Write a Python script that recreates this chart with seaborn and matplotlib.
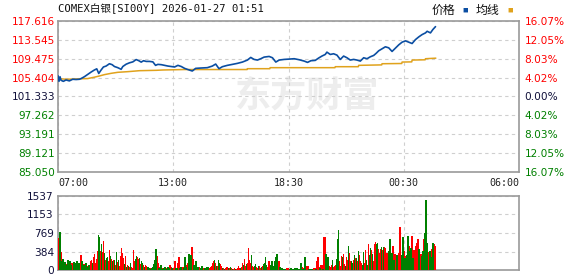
import numpy as np
import pandas as pd
import matplotlib
matplotlib.use("Agg")
import matplotlib.pyplot as plt
import seaborn as sns

# ---------------- data ----------------
title = "COMEX白银[SI00Y] 2026-01-27 01:51"
x_tick_labels = ["07:00", "13:00", "18:30", "00:30", "06:00"]
session_minutes = 1380  # 07:00 -> 06:00 next day
price_ticks = [117.616, 113.545, 109.475, 105.404, 101.333, 97.262, 93.191, 89.121, 85.050]
pct_labels = ["16.07%", "12.05%", "8.03%", "4.02%", "0.00%", "4.02%", "8.03%", "12.05%", "16.07%"]
vol_ticks = [0, 384, 769, 1153, 1537]

# price (minutes after 07:00, price)
price_minute = [0, 3, 6, 9, 16, 24, 34, 44, 54, 64, 69, 79, 89, 99, 109, 116, 122, 129, 136,
                144, 154, 162, 169, 179, 189, 194, 204, 214, 224, 234, 242, 249, 256, 264,
                274, 284, 292, 299, 309, 319, 329, 339, 349, 359, 369, 379, 387, 402, 412,
                427, 447, 462, 472, 482, 492, 507, 522, 537, 552, 567, 577, 587, 597, 607,
                617, 632, 642, 652, 662, 677, 692, 707, 722, 737, 747, 757, 770, 780, 790,
                800, 805, 815, 825, 835, 845, 855, 865, 875, 885, 895, 905, 915, 925, 935,
                945, 952, 960, 970, 980, 990, 1000, 1010, 1020, 1030, 1040, 1050, 1060,
                1070, 1080, 1090, 1100, 1105, 1115, 1122, 1130]
price = [105.80, 104.60, 105.60, 104.84, 104.60, 104.90, 104.70, 105.05, 105.00, 105.05,
         105.20, 105.60, 106.10, 106.60, 107.05, 107.30, 106.30, 107.05, 107.70, 107.90,
         108.40, 108.20, 107.80, 107.55, 107.20, 107.80, 108.30, 108.60, 108.80, 109.30,
         109.05, 108.75, 109.05, 108.90, 108.90, 108.80, 108.05, 108.26, 108.20, 108.05,
         107.90, 107.80, 107.70, 108.05, 107.80, 107.40, 107.19, 106.83, 107.40, 107.47,
         107.55, 107.90, 108.33, 107.33, 107.76, 108.05, 108.26, 108.48, 108.76, 109.19,
         109.76, 109.33, 109.19, 109.48, 109.83, 109.97, 109.69, 108.76, 109.19, 109.33,
         109.40, 109.48, 109.26, 108.97, 108.69, 109.05, 109.12, 109.62, 110.05, 110.40,
         110.90, 110.40, 110.55, 110.26, 109.33, 110.05, 109.69, 109.19, 109.33, 109.19,
         108.97, 109.69, 109.48, 109.90, 110.19, 110.62, 111.19, 111.62, 112.05, 111.83,
         111.05, 111.76, 112.47, 113.05, 113.33, 113.05, 112.76, 113.60, 114.19, 114.69,
         115.05, 115.40, 115.05, 115.76, 116.40]

# average price line
avg_minute = [0, 24, 89, 109, 124, 139, 159, 179, 209, 244, 294, 314, 379, 566, 567, 634,
              635, 829, 830, 899, 900, 969, 970, 1029, 1030, 1059, 1060, 1099, 1100, 1131]
avg_price = [105.20, 105.05, 105.20, 105.50, 105.76, 106.05, 106.33, 106.55, 106.69, 106.90,
             106.98, 107.05, 107.15, 107.15, 107.33, 107.33, 107.55, 107.55, 107.76, 107.76,
             108.05, 108.15, 108.40, 108.45, 108.76, 108.80, 109.19, 109.25, 109.48, 109.60]

# volume bars (about one every 3 minutes)
volume = [
    662, 790, 377, 178, 228, 142, 157, 121, 107, 206, 142, 192, 107, 142, 93, 164, 142, 71, 178, 107,
    142, 121, 320, 178, 128, 107, 121, 142, 71, 93, 107, 178, 213, 142, 278, 334, 142, 235, 391, 726,
    690, 391, 534, 377, 598, 356, 213, 249, 263, 178, 406, 285, 228, 192, 213, 199, 107, 370, 157, 206,
    93, 285, 448, 356, 249, 121, 285, 71, 107, 93, 64, 142, 71, 50, 413, 178, 228, 285, 270, 235,
    249, 135, 178, 142, 107, 71, 107, 85, 71, 36, 50, 21, 50, 71, 128, 213, 427, 285, 142, 50,
    71, 107, 36, 21, 50, 71, 36, 21, 71, 36, 107, 71, 36, 21, 36, 192, 36, 36, 142, 263,
    36, 71, 50, 71, 36, 263,
    71, 107, 142, 334, 178, 320, 477, 235, 107, 93, 178, 71, 64, 64, 36, 50, 93, 36, 21, 36,
    21, 64, 64, 36, 71, 93, 142, 178, 213, 142, 93, 85, 213, 142, 121, 85, 50, 36, 14, 36,
    71, 71, 36, 36, 57, 36, 21, 21, 36, 21, 21, 50, 85, 36, 50, 71, 142, 107, 235, 93,
    121, 142, 448, 213, 142, 320, 93, 71, 85, 121, 71, 50, 93, 93, 36, 71, 93, 121, 142, 278,
    107, 71, 178, 93, 107, 192, 93, 71, 192, 278, 334, 142, 178, 71, 36, 50, 21, 14, 21, 21,
    50, 36, 21, 21, 36, 21, 21, 21, 50, 21, 36, 21, 21, 21, 142, 71, 21, 36, 270, 93,
    71, 85, 21, 21, 21, 21, 21,
    36, 50, 21, 192, 278, 71, 36, 107, 107, 21, 683, 683, 342, 278, 263, 78, 71, 107, 213, 71,
    93, 107, 235, 640, 833, 178, 93, 292, 270, 334, 121, 85, 263, 206, 491, 356, 192, 178, 142, 199,
    320, 249, 249, 192, 391, 320, 192, 142, 107, 377, 142, 420, 199, 107, 534, 320, 463, 406, 334, 178,
    548, 576, 534, 569, 427, 349, 434, 484, 406, 484, 484, 463, 363, 192, 391, 640, 249, 356, 498, 213,
    334, 142, 320, 320, 356, 890, 320, 306, 676, 391, 249, 285, 320, 704, 498, 391, 463, 704, 249, 406,
    263, 498, 569, 640, 441, 334, 334, 285, 391, 640, 769, 1445, 569, 263, 377, 391, 263, 427, 569, 534,
    498,
]
vol_dir = (
    "rgrggrgrgg" "rggrrggrgr" "grrgrgrggr" "grrgrrrrrg" "grgrrgrggr" "rgrgrgrgrg"
    "rrrrrgrgrg" "rgrrrrggrr" "grggrgrrgg" "rggggggrrg" "rgrgggrggg" "rrgrrrggrr" "ggrrgg"
    "grrgggrrgr" "grgrrggrrg" "rggrrrrrgr" "grggrrgrgr" "rrgrgrgrrg" "rrrrgrrgrr"
    "grrrrgrrgg" "rrgrrgrggg" "grrrgggrgg" "grrggggggr" "rrrggggrgr" "gggrgrgrgr" "rrggrgr"
    "rrgrrrgrrg" "rrgggrrrgr" "rrgggrrrgr" "rgrrgrrggr" "grgrgrrrgg" "rrggrggrgr"
    "rrggrrrgrg" "rrrrggrgrg" "rrgrrrrggr" "grggrggrgr" "rrrrgrrggr" "gggrrggrgrr"
)

# ---------------- style ----------------
sns.set_style("white")
plt.rcParams["font.family"] = ["DejaVu Sans", "Noto Sans CJK SC"]

RED = "#ff0000"
GREEN = "#008000"
DARK = "#10103a"
SPINE = "#9a9a9a"
GRID = "#cfcfcf"

fig = plt.figure(figsize=(5.78, 2.76), dpi=100)
W, H = 578, 276
ax = fig.add_axes([58 / W, 1 - 172 / H, 461 / W, 151 / H])
axv = fig.add_axes([58 / W, 1 - 270 / H, 461 / W, 74 / H])

quarters = [0, session_minutes / 4, session_minutes / 2, 3 * session_minutes / 4, session_minutes]

# watermark
ax.text(0.54, 0.50, "东方财富", transform=ax.transAxes, fontsize=26, fontweight="bold",
        color="#ededed", ha="center", va="center", family=["Noto Sans CJK SC"], zorder=0)

# price lines
sns.lineplot(x=avg_minute, y=avg_price, ax=ax, color="#e0a21c", lw=1.1, zorder=3)
sns.lineplot(x=price_minute, y=price, ax=ax, color="#0b4ea2", lw=1.2, zorder=4)

ax.set_xlim(0, session_minutes)
ax.set_ylim(price_ticks[-1], price_ticks[0])
ax.set_yticks(price_ticks)
ax.set_yticklabels([f"{v:.3f}" for v in price_ticks])
ax.set_xticks(quarters)
ax.set_xticklabels(x_tick_labels, family="DejaVu Sans Mono")
ax.grid(True, ls=(0, (3, 3)), color=GRID, lw=0.8)
ax.tick_params(axis="y", length=0, pad=2, labelsize=7.6)
ax.tick_params(axis="x", length=0, pad=4, labelsize=7.2, labelcolor="#222222")
ax.set_xlabel("")
ax.set_ylabel("")
xl = ax.get_xticklabels()
xl[0].set_ha("left")
xl[-1].set_ha("right")
for i, t in enumerate(ax.get_yticklabels()):
    t.set_color(RED if i < 4 else (DARK if i == 4 else GREEN))
for s in ax.spines.values():
    s.set_color(SPINE)
    s.set_linewidth(1.2)

axr = ax.twinx()
axr.set_ylim(price_ticks[-1], price_ticks[0])
axr.set_yticks(price_ticks)
axr.set_yticklabels(pct_labels)
axr.tick_params(axis="y", length=0, pad=4, labelsize=7.6)
for i, t in enumerate(axr.get_yticklabels()):
    t.set_color(RED if i < 4 else (DARK if i == 4 else GREEN))
for s in axr.spines.values():
    s.set_visible(False)

# volume
n = min(len(volume), len(vol_dir))
bar_t = np.linspace(3, 1129, n)
df = pd.DataFrame({"t": bar_t, "v": volume[:n], "d": list(vol_dir[:n])})
sns.barplot(data=df, x="t", y="v", hue="d", palette={"r": RED, "g": GREEN},
            native_scale=True, dodge=False, width=1.5, errorbar=None, legend=False,
            saturation=1, edgecolor="none", linewidth=0, antialiased=False, ax=axv, zorder=3)
axv.set_xlim(0, session_minutes)
axv.set_ylim(0, vol_ticks[-1])
axv.set_yticks(vol_ticks)
axv.set_yticklabels([str(v) for v in vol_ticks])
axv.set_xticks(quarters)
axv.set_xticklabels([])
axv.grid(True, ls=(0, (3, 3)), color=GRID, lw=0.8)
axv.set_axisbelow(True)
axv.tick_params(axis="y", length=0, pad=3, labelsize=7.6, labelcolor=DARK)
axv.tick_params(axis="x", length=0, labelbottom=False)
axv.set_xlabel("")
axv.set_ylabel("")
for s in axv.spines.values():
    s.set_color(SPINE)
    s.set_linewidth(1.2)

# title and legend
fig.text(58 / W, 1 - 9 / H, title, ha="left", va="center", fontsize=7.6,
         family=["DejaVu Sans Mono", "Noto Sans CJK SC"], color="#111111")
cjk = ["Noto Sans CJK SC", "DejaVu Sans"]
fig.text(432 / W, 1 - 10 / H, "价格", ha="left", va="center", fontsize=8.6, family=cjk, color="#111111")
fig.text(462 / W, 1 - 10 / H, "■", ha="left", va="center", fontsize=4, family=cjk, color="#0b4ea2")
fig.text(476 / W, 1 - 10 / H, "均线", ha="left", va="center", fontsize=8.6, family=cjk, color="#111111")
fig.text(507 / W, 1 - 10 / H, "■", ha="left", va="center", fontsize=4, family=cjk, color="#e0a21c")

fig.savefig("out.png", dpi=100)
